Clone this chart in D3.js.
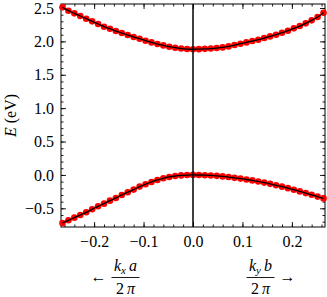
<!DOCTYPE html>
<html>
<head>
<meta charset="utf-8">
<script src="https://cdn.jsdelivr.net/npm/d3@7"></script>
<style>
  body { margin: 0; background: #fff; }
  .axis path { stroke: none; }
  .axis line { stroke: #000; stroke-width: 0.9; }
</style>
</head>
<body>
<script>
// k values (left half is k_x a / 2pi, right half is k_y b / 2pi)
var kValues = [-0.264, -0.252, -0.240, -0.228, -0.216, -0.204, -0.192, -0.180, -0.168, -0.156, -0.144,
               -0.132, -0.120, -0.108, -0.096, -0.084, -0.072, -0.060, -0.048, -0.036, -0.024, -0.012,
                0.000,
                0.012, 0.024, 0.036, 0.048, 0.060, 0.072, 0.084, 0.096, 0.108, 0.120, 0.132,
                0.144, 0.156, 0.168, 0.180, 0.192, 0.204, 0.216, 0.228, 0.240, 0.252, 0.264];

// conduction band (eV)
var upperBand = [2.51, 2.46, 2.42, 2.38, 2.34, 2.30, 2.26, 2.22, 2.19, 2.155, 2.125,
                 2.095, 2.065, 2.04, 2.01, 1.985, 1.96, 1.94, 1.92, 1.905, 1.893, 1.885,
                 1.882,
                 1.884, 1.888, 1.893, 1.90, 1.91, 1.925, 1.945, 1.965, 1.985, 2.005, 2.025,
                 2.05, 2.075, 2.10, 2.13, 2.16, 2.195, 2.23, 2.27, 2.315, 2.365, 2.43];

// valence band (eV)
var lowerBand = [-0.72, -0.68, -0.64, -0.60, -0.56, -0.515, -0.47, -0.43, -0.385, -0.345, -0.30,
                 -0.26, -0.22, -0.175, -0.14, -0.105, -0.075, -0.05, -0.03, -0.016, -0.007, -0.002,
                  0.0,
                 -0.001, -0.004, -0.008, -0.014, -0.022, -0.032, -0.044, -0.055, -0.068, -0.082, -0.098,
                 -0.115, -0.134, -0.155, -0.176, -0.198, -0.222, -0.247, -0.272, -0.298, -0.325, -0.352];

var xTicks = [-0.2, -0.1, 0.0, 0.1, 0.2];
var yTicks = [-0.5, 0.0, 0.5, 1.0, 1.5, 2.0, 2.5];

var width = 327, height = 297;
var margin = {top: 4, right: 2, bottom: 70, left: 61};
var w = width - margin.left - margin.right,
    h = height - margin.top - margin.bottom;
var serif = "'Liberation Serif'";

var svg = d3.select("body").append("svg")
    .attr("width", width)
    .attr("height", height)
    .style("font-family", serif);

var x = d3.scaleLinear().domain([-0.267, 0.267]).range([margin.left, margin.left + w]);
var y = d3.scaleLinear().domain([-0.78, 2.56]).range([margin.top + h, margin.top]);

var fmt = d3.format(".1f");
var xMinor = d3.range(-26, 27, 2).map(function(d) { return d / 100; });
var yMinor = d3.range(-7, 26, 1).map(function(d) { return d / 10; });

// frame axes, ticks pointing inward
function addAxis(axis, tr) {
  var g = svg.append("g").attr("class", "axis")
    .attr("transform", tr)
    .call(axis);
  g.selectAll("text")
    .style("font-family", serif)
    .style("font-size", "16px")
    .style("fill", "#000");
}
addAxis(d3.axisBottom(x).tickValues(xMinor).tickSize(-2.5).tickFormat(""), "translate(0," + (margin.top + h) + ")");
addAxis(d3.axisBottom(x).tickValues(xTicks).tickSize(-5).tickPadding(9).tickFormat(fmt), "translate(0," + (margin.top + h) + ")");
addAxis(d3.axisTop(x).tickValues(xMinor).tickSize(-2.5).tickFormat(""), "translate(0," + margin.top + ")");
addAxis(d3.axisTop(x).tickValues(xTicks).tickSize(-5).tickFormat(""), "translate(0," + margin.top + ")");
addAxis(d3.axisLeft(y).tickValues(yMinor).tickSize(-2.5).tickFormat(""), "translate(" + margin.left + ",0)");
addAxis(d3.axisLeft(y).tickValues(yTicks).tickSize(-5).tickPadding(7).tickFormat(fmt), "translate(" + margin.left + ",0)");
addAxis(d3.axisRight(y).tickValues(yMinor).tickSize(-2.5).tickFormat(""), "translate(" + (margin.left + w) + ",0)");
addAxis(d3.axisRight(y).tickValues(yTicks).tickSize(-5).tickFormat(""), "translate(" + (margin.left + w) + ",0)");

// frame
svg.append("rect")
    .attr("x", margin.left).attr("y", margin.top)
    .attr("width", w).attr("height", h)
    .attr("fill", "none").attr("stroke", "#000").attr("stroke-width", 1);

var plot = svg.append("g");

// red markers
[upperBand, lowerBand].forEach(function(band) {
  plot.append("g").selectAll("circle")
      .data(kValues.map(function(k, i) { return [k, band[i]]; }))
    .enter().append("circle")
      .attr("cx", function(d) { return x(d[0]); })
      .attr("cy", function(d) { return y(d[1]); })
      .attr("r", 3.3)
      .attr("fill", "#ff0000");
});

// black lines
var line = d3.line()
    .x(function(d) { return x(d[0]); })
    .y(function(d) { return y(d[1]); })
    .curve(d3.curveMonotoneX);

[upperBand, lowerBand].forEach(function(band) {
  plot.append("path")
      .datum(kValues.map(function(k, i) { return [k, band[i]]; }))
      .attr("d", line)
      .attr("fill", "none")
      .attr("stroke", "#000")
      .attr("stroke-width", 1.3);
});

// vertical line at k = 0
plot.append("line")
    .attr("x1", x(0)).attr("x2", x(0))
    .attr("y1", margin.top).attr("y2", margin.top + h)
    .attr("stroke", "#000").attr("stroke-width", 1.5);

// y axis title
var yt = svg.append("text")
    .attr("transform", "translate(16," + (margin.top + h / 2) + ") rotate(-90)")
    .attr("text-anchor", "middle")
    .style("font-family", serif)
    .style("font-size", "16px");
yt.append("tspan").style("font-style", "italic").text("E");
yt.append("tspan").text(" (eV)");

// x axis fraction labels
function fraction(cx, sub, last, arrow, arrowDx) {
  var num = svg.append("text")
      .attr("x", cx).attr("y", 271)
      .attr("text-anchor", "middle")
      .style("font-family", serif)
      .style("font-size", "16px");
  num.append("tspan").style("font-style", "italic").text("k");
  num.append("tspan").style("font-style", "italic").style("font-size", "11px").attr("dy", 3).text(sub);
  num.append("tspan").style("font-style", "italic").attr("dy", -3).text("\u2009" + last);

  svg.append("line")
      .attr("x1", cx - 14).attr("x2", cx + 14)
      .attr("y1", 277.5).attr("y2", 277.5)
      .attr("stroke", "#000").attr("stroke-width", 0.9);

  var den = svg.append("text")
      .attr("x", cx).attr("y", 294)
      .attr("text-anchor", "middle")
      .style("font-family", serif)
      .style("font-size", "16px");
  den.append("tspan").text("2\u2009");
  den.append("tspan").style("font-style", "italic").text("\u03c0");

  svg.append("text")
      .attr("x", cx + arrowDx).attr("y", 282)
      .attr("text-anchor", "middle")
      .style("font-family", serif)
      .style("font-size", "16px")
      .text(arrow);
}
fraction(x(0) - 67.5, "x", "a", "\u2190", -27);
fraction(x(0) + 67.5, "y", "b", "\u2192", 27);
</script>
</body>
</html>
